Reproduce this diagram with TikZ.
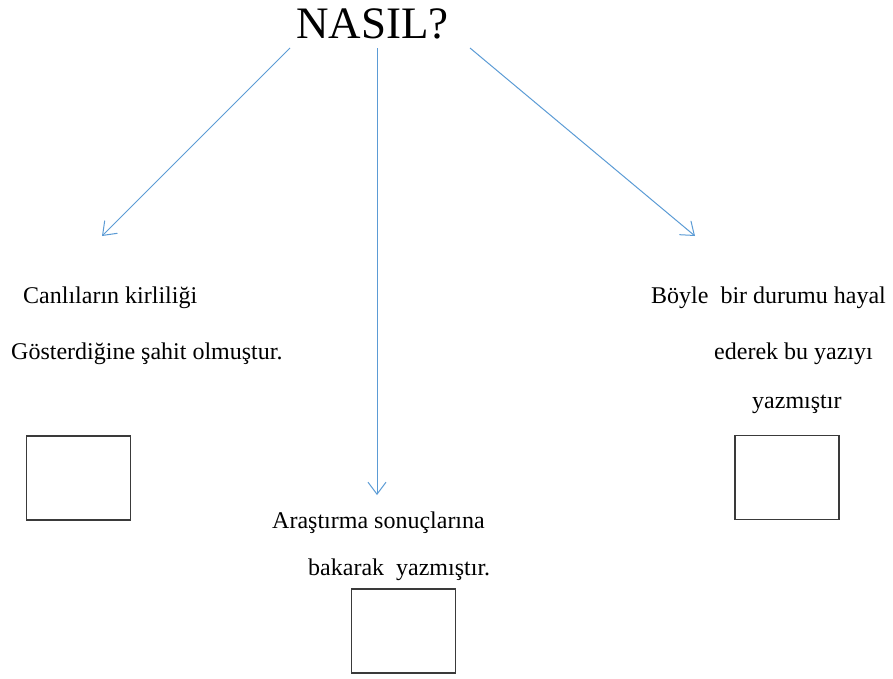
\documentclass[tikz,border=0pt]{standalone}
\usepackage{fontspec}
\setmainfont{LiberationSerif}[Extension=.ttf, UprightFont=*-Regular, BoldFont=*-Bold, ItalicFont=*-Italic, BoldItalicFont=*-BoldItalic]
\usetikzlibrary{arrows.meta}
\definecolor{arrowblue}{HTML}{5B9BD5}
\definecolor{boxgray}{HTML}{3A3A3A}
\tikzset{
  txt/.style={anchor=base west, inner sep=0pt, font=\fontsize{24}{29}\selectfont},
  conn/.style={draw=arrowblue, line width=1pt, -{Straight Barb[length=12pt, width=18pt, line width=1pt]}},
  answerbox/.style={draw=boxgray, line width=1.2pt, minimum width=104pt, minimum height=84pt, inner sep=0pt}
}
\begin{document}
\begin{tikzpicture}[x=1pt, y=-1pt]
\useasboundingbox (0,0) rectangle (893,678);
\node[anchor=base west, inner sep=0pt, font=\fontsize{45}{52}\selectfont] (title) at (296,38) {NASIL?};
\coordinate (s1) at (290,48);
\coordinate (s2) at (377,48);
\coordinate (s3) at (470,48);
\coordinate (e1) at (102,236);
\coordinate (e2) at (377,495);
\coordinate (e3) at (695,236);
\draw[conn] (s1) -- (e1);
\draw[conn] (s2) -- (e2);
\draw[conn] (s3) -- (e3);
\node[txt] (l1) at (23,303) {Canlıların kirliliği};
\node[txt] (l2) at (11,359) {Gösterdiğine şahit olmuştur.};
\node[txt] (r1) at (651,303) {Böyle\hspace{0.25em} bir durumu hayal};
\node[txt] (r2) at (714,359) {ederek bu yazıyı};
\node[txt] (r3) at (752,408) {yazmıştır};
\node[txt] (m1) at (272,528) {Araştırma sonuçlarına};
\node[txt] (m2) at (308,575) {bakarak\hspace{0.25em} yazmıştır.};
\node[answerbox] (b1) at (78.5,478) {};
\node[answerbox] (b2) at (787,477.5) {};
\node[answerbox] (b3) at (403.5,631) {};
\end{tikzpicture}
\end{document}
